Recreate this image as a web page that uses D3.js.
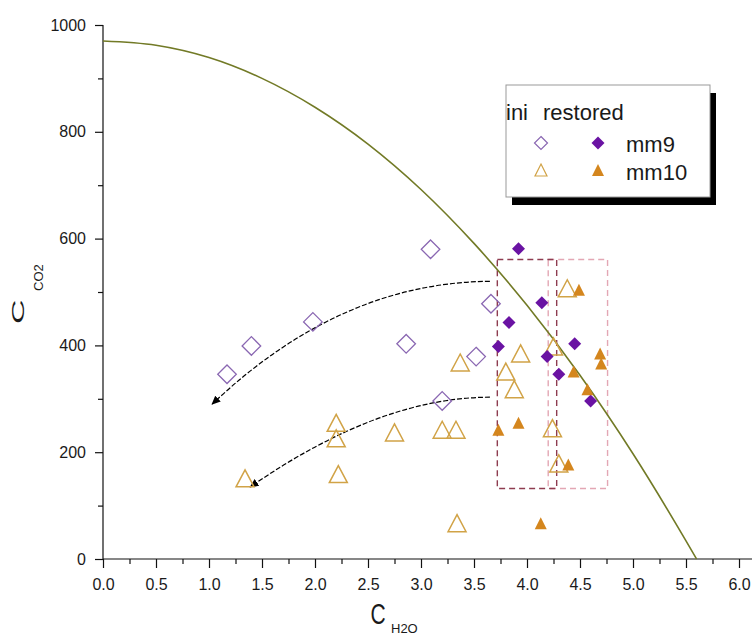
<!DOCTYPE html>
<html><head><meta charset="utf-8">
<script src="https://cdn.jsdelivr.net/npm/d3@7"></script>
<style>body{margin:0;background:#fff} text{font-family:"Liberation Sans",Arial,sans-serif;fill:#1a1a1a}</style>
</head><body><svg id="c" width="753" height="636"></svg>
<script>
// boundary curve
const curveX = [0,0.5,1,1.5,2,2.5,3,3.5,4,4.5,5,5.5,5.6];
const curveY = [970,962,939,900,846,777,692,591,475,344,197,34,0];
// ini mm9 (hollow diamonds)
const iniMm9X = [1.17,1.40,1.98,2.86,3.09,3.20,3.52,3.66];
const iniMm9Y = [346,399,444,403,580,296,379,478];
// restored mm9 (filled diamonds)
const resMm9X = [3.92,4.14,3.83,3.73,4.19,4.45,4.30,4.60];
const resMm9Y = [581,480,443,398,379,403,346,296];
// ini mm10 (hollow triangles)
const iniMm10X = [4.38,3.94,3.80,3.88,4.25,4.24,4.30,2.20,2.20,2.75,3.20,3.33,2.22,1.34,3.34,3.37];
const iniMm10Y = [507,385,351,318,398,245,179,255,226,237,242,242,159,151,67,368];
// restored mm10 (filled triangles)
const resMm10X = [4.49,4.69,4.70,4.44,4.57,3.92,3.73,4.39,4.13];
const resMm10Y = [504,385,366,351,318,255,242,177,67];
// annotation arrows (start, control, end)
const arrow1X = [3.65,2.24,1.03], arrow1Y = [520,518,290];
const arrow2X = [3.65,2.61,1.39], arrow2Y = [303,303,135];
// dashed boxes
const box1X = [3.72,4.28], box2X = [4.20,4.76], boxY = [132,561];
// ticks
const xMajor = [0,0.5,1,1.5,2,2.5,3,3.5,4,4.5,5,5.5,6];
const xMinor = [0.25,0.75,1.25,1.75,2.25,2.75,3.25,3.75,4.25,4.75,5.25,5.75];
const yMajor = [0,200,400,600,800,1000];
const yMinor = [100,300,500,700,900];

const svg = d3.select("#c");
const x = d3.scaleLinear().domain([0,6]).range([103,739]);
const y = d3.scaleLinear().domain([0,1000]).range([559,25]);

// axes
const gx = svg.append("g").attr("transform","translate(0,559)");
gx.call(d3.axisBottom(x).tickValues(xMajor).tickSize(9).tickPadding(11).tickFormat(d3.format(".1f")));
const gxm = svg.append("g").attr("transform","translate(0,559)");
gxm.call(d3.axisBottom(x).tickValues(xMinor).tickSize(5).tickFormat(""));
const gy = svg.append("g").attr("transform","translate(103,0)");
gy.call(d3.axisLeft(y).tickValues(yMajor).tickSize(8).tickPadding(9).tickFormat(d3.format("d")));
const gym = svg.append("g").attr("transform","translate(103,0)");
gym.call(d3.axisLeft(y).tickValues(yMinor).tickSize(5).tickFormat(""));
svg.selectAll(".domain").remove();
svg.selectAll(".tick line").attr("stroke","#111").attr("stroke-width",1.2);
svg.selectAll(".tick text").attr("font-size",16).attr("fill","#1a1a1a").style("font-family","'Liberation Sans',Arial,sans-serif");
svg.append("line").attr("x1",x(0)).attr("x2",752).attr("y1",y(0)).attr("y2",y(0)).attr("stroke","#111").attr("stroke-width",1.2);
svg.append("line").attr("x1",x(0)).attr("x2",x(0)).attr("y1",y(0)).attr("y2",y(1000)).attr("stroke","#111").attr("stroke-width",1.2);

// axis titles
svg.append("text").attr("font-size",30).attr("transform","translate(370.5,624) scale(0.7,1)").text("C");
svg.append("text").attr("font-size",13).attr("x",391).attr("y",633).text("H2O");
svg.append("text").attr("font-size",34).attr("transform","translate(24,324) scale(0.5,1) rotate(-90)").text("C");
svg.append("text").attr("font-size",13).attr("transform","translate(43,291) rotate(-90)").text("CO2");

// dashed boxes
svg.append("rect").attr("x",x(box2X[0])).attr("y",y(boxY[1])).attr("width",x(box2X[1])-x(box2X[0])).attr("height",y(boxY[0])-y(boxY[1]))
  .attr("fill","none").attr("stroke","#e3a7b4").attr("stroke-width",1.4).attr("stroke-dasharray","6,4");
svg.append("rect").attr("x",x(box1X[0])).attr("y",y(boxY[1])).attr("width",x(box1X[1])-x(box1X[0])).attr("height",y(boxY[0])-y(boxY[1]))
  .attr("fill","none").attr("stroke","#8e3c50").attr("stroke-width",1.4).attr("stroke-dasharray","6,4");

// boundary curve
const pts = curveX.map((v,i)=>[v,curveY[i]]);
svg.append("path").attr("d", d3.line().x(d=>x(d[0])).y(d=>y(d[1])).curve(d3.curveMonotoneX)(pts))
  .attr("fill","none").attr("stroke","#727a26").attr("stroke-width",1.6);

// arrows
svg.append("defs").append("marker").attr("id","ah").attr("markerUnits","userSpaceOnUse")
  .attr("markerWidth",10).attr("markerHeight",8).attr("refX",8).attr("refY",4).attr("orient","auto")
  .append("path").attr("d","M0,0 L9,4 L0,8 Z").attr("fill","#000");
function arrow(ax, ay){
  const p = d3.path();
  p.moveTo(x(ax[0]),y(ay[0]));
  p.quadraticCurveTo(x(ax[1]),y(ay[1]),x(ax[2]),y(ay[2]));
  svg.append("path").attr("d",p.toString()).attr("fill","none").attr("stroke","#000")
    .attr("stroke-width",1.2).attr("stroke-dasharray","5,2").attr("marker-end","url(#ah)");
}
arrow(arrow1X, arrow1Y);
arrow(arrow2X, arrow2Y);

// markers
const diamond = r => `M0,${-r}L${r},0L0,${r}L${-r},0Z`;
const tri = (w,h) => `M0,${-h/2}L${w/2},${h/2}L${-w/2},${h/2}Z`;
function plot(xs, ys, d, fill, stroke, sw){
  svg.append("g").selectAll("path").data(xs.map((v,i)=>[v,ys[i]])).join("path")
    .attr("d",d).attr("transform",p=>`translate(${x(p[0])},${y(p[1])})`)
    .attr("fill",fill).attr("stroke",stroke).attr("stroke-width",sw);
}
const cIniMm9 = "#8a67b2", cResMm9 = "#6a13a3", cIniMm10 = "#d1a347", cResMm10 = "#d4861e";
plot(iniMm9X, iniMm9Y, diamond(9.3), "none", cIniMm9, 1.3);
plot(iniMm10X, iniMm10Y, tri(18,17), "none", cIniMm10, 1.5);
plot(resMm9X, resMm9Y, diamond(6.5), cResMm9, "none", 0);
plot(resMm10X, resMm10Y, tri(12,12), cResMm10, "none", 0);

// legend
const lg = svg.append("g");
lg.append("rect").attr("x",512).attr("y",93).attr("width",204).attr("height",112).attr("fill","#000");
lg.append("rect").attr("x",506).attr("y",85).attr("width",204).attr("height",112).attr("fill","#fff").attr("stroke","#999").attr("stroke-width",1);
lg.append("text").attr("x",506).attr("y",119.5).attr("font-size",22).text("ini");
lg.append("text").attr("x",543).attr("y",119.5).attr("font-size",22).text("restored");
lg.append("text").attr("x",626).attr("y",152).attr("font-size",22).text("mm9");
lg.append("text").attr("x",626).attr("y",179.5).attr("font-size",22).text("mm10");
lg.append("path").attr("d",diamond(6.5)).attr("transform","translate(541,143)").attr("fill","none").attr("stroke",cIniMm9).attr("stroke-width",1.2);
lg.append("path").attr("d",diamond(6.5)).attr("transform","translate(598,143)").attr("fill",cResMm9);
lg.append("path").attr("d",tri(12,12)).attr("transform","translate(541,170)").attr("fill","none").attr("stroke",cIniMm10).attr("stroke-width",1.2);
lg.append("path").attr("d",tri(12,12)).attr("transform","translate(598,170)").attr("fill",cResMm10);
</script></body></html>
